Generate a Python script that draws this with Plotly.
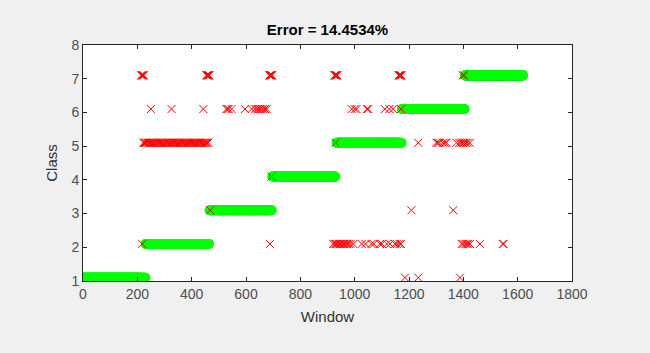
import plotly.graph_objects as go

# Ground-truth class segments (first window, last window, class)
seg_start = [1, 231, 466, 697, 933, 1174, 1406]
seg_end = [230, 465, 696, 932, 1173, 1405, 1620]
seg_class = [1, 2, 3, 4, 5, 6, 7]

# Misclassified windows and their predicted class
err_win_7 = [214, 217, 219, 222, 224, 454, 457, 459, 461, 463, 465, 686, 688, 690, 692, 694, 696,
             926, 928, 930, 932, 934, 936, 1162, 1164, 1166, 1168, 1170, 1172, 1398, 1403]
err_win_6 = [250, 326, 443, 528, 532, 536, 547, 596, 621, 632, 639, 645, 651, 657, 664, 670, 676,
             989, 1000, 1007, 1045, 1050, 1111, 1128, 1142, 1171]
err_win_5 = [222, 226, 229, 233, 238, 242, 246, 251, 253, 257, 262, 265, 270, 274, 278, 283, 286,
             290, 295, 298, 303, 307, 311, 316, 320, 325, 329, 333, 337, 342, 345, 350, 354, 358,
             362, 367, 370, 374, 379, 383, 387, 392, 395, 400, 404, 408, 413, 416, 420, 425, 429,
             433, 437, 441, 446, 449, 453, 457, 461, 930, 1234, 1301, 1306, 1312, 1325, 1332,
             1338, 1375, 1385, 1392, 1398, 1404, 1410, 1416, 1424]
err_win_4 = [694]
err_win_3 = [468, 1209, 1363]
err_win_2 = [218, 688, 921, 926, 931, 936, 941, 946, 951, 956, 961, 966, 972, 978, 985, 995,
             1026, 1040, 1062, 1070, 1093, 1100, 1118, 1130, 1148, 1155, 1165, 1170, 1394, 1400,
             1408, 1412, 1418, 1424, 1461, 1545, 1548]
err_win_1 = [1185, 1234, 1388]

title_text = "Error = 14.4534%"
x_ticks = [0, 200, 400, 600, 800, 1000, 1200, 1400, 1600, 1800]
y_ticks = [1, 2, 3, 4, 5, 6, 7, 8]

errors = {7: err_win_7, 6: err_win_6, 5: err_win_5, 4: err_win_4,
          3: err_win_3, 2: err_win_2, 1: err_win_1}
err_set = set()
ex, ey = [], []
for c, wins in errors.items():
    for w in wins:
        err_set.add(w)
        ex.append(w)
        ey.append(c + 0.1)

tx, ty, gx, gy = [], [], [], []
for s, e, c in zip(seg_start, seg_end, seg_class):
    for w in range(s, e + 1):
        tx.append(w)
        ty.append(c)
        if w not in err_set:
            gx.append(w)
            gy.append(c + 0.1)

fig = go.Figure()
fig.add_trace(go.Scatter(x=tx, y=ty, mode="markers",
                         marker=dict(color="#0000ff", size=3), showlegend=False))
fig.add_trace(go.Scatter(x=gx, y=gy, mode="markers",
                         marker=dict(color="#00ff00", size=10), showlegend=False))
fig.add_trace(go.Scatter(x=ex, y=ey, mode="markers",
                         marker=dict(symbol="x-thin", size=8, color="#ff0000",
                                     line=dict(color="#ff0000", width=1)),
                         showlegend=False))

axis_common = dict(showline=True, linecolor="#262626", linewidth=1, mirror="ticks",
                   ticks="inside", ticklen=4, tickcolor="#262626", showgrid=False,
                   zeroline=False, tickfont=dict(size=14, color="#4d4d4d"))

fig.update_layout(
    width=650, height=353,
    margin=dict(l=83, r=78, t=45, b=72),
    paper_bgcolor="#f0f0f0", plot_bgcolor="#ffffff",
    font=dict(family="Liberation Sans, Arial, sans-serif", color="#262626"),
    title=dict(text="<b>" + title_text + "</b>", x=0.5, xanchor="center",
               xref="paper", y=0.915, yanchor="middle", font=dict(size=15, color="#000000")),
    xaxis=dict(range=[0, 1800], tickvals=x_ticks, title=dict(text="Window", font=dict(size=15, color="#333333"),
               standoff=10), **axis_common),
    yaxis=dict(range=[1, 8], tickvals=y_ticks, title=dict(text="Class", font=dict(size=15, color="#333333"),
               standoff=10), **axis_common),
)

fig.write_html("out.html", config={"displayModeBar": False},
               post_script="document.body.style.margin='0';document.body.style.background='#f0f0f0';")
